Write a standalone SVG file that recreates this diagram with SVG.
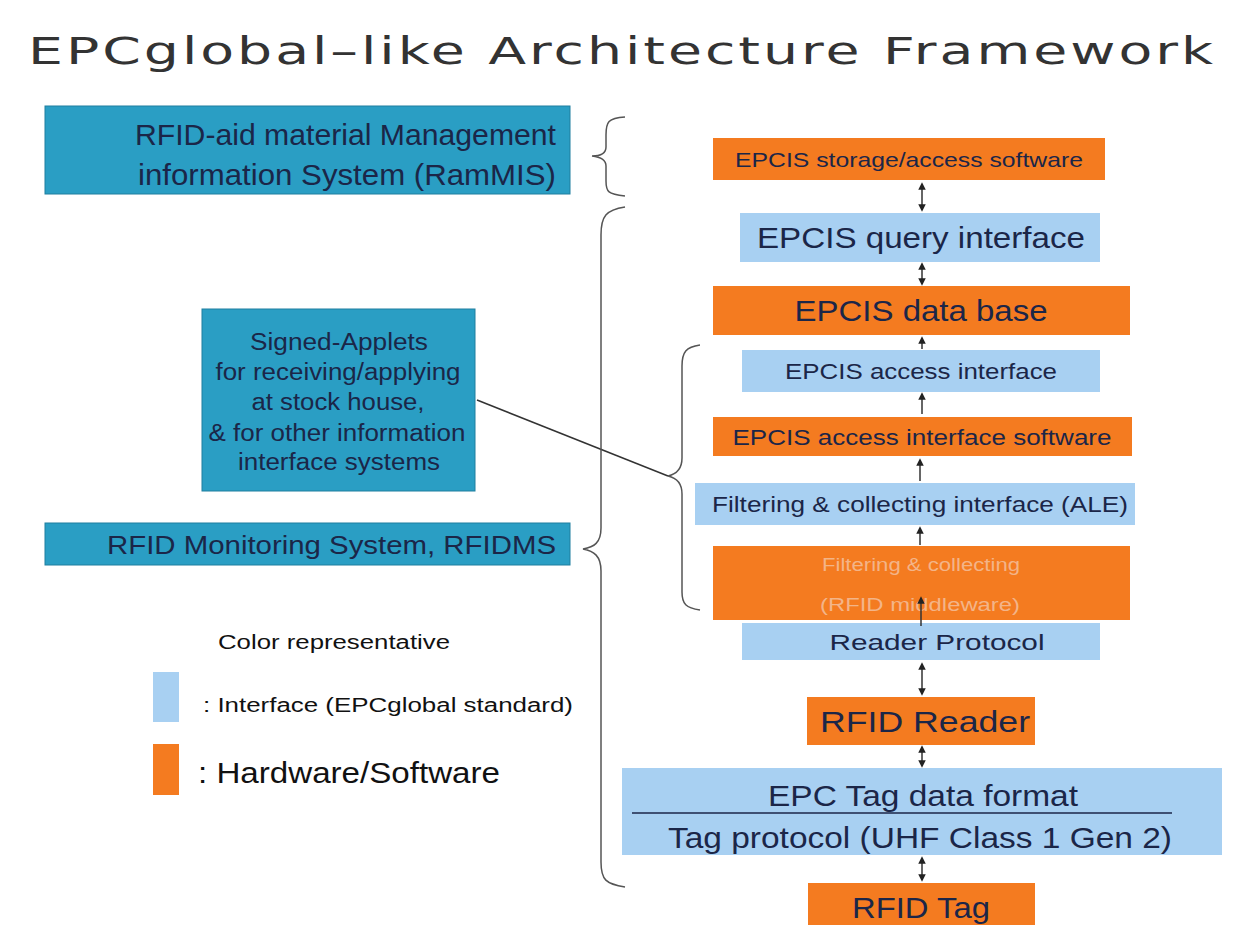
<svg xmlns="http://www.w3.org/2000/svg" width="1248" height="925" viewBox="0 0 1248 925">
<defs>
<style>
.t{font-family:"Liberation Sans",Arial,sans-serif;fill:#1b2648;text-anchor:middle}
.s{text-anchor:start}
.e{text-anchor:end}
.k{fill:#111}
.or{fill:#f47b20}
.lb{fill:#a8d0f2}
.tl{fill:#2a9ec4;stroke:#1f7f9f;stroke-width:1}
.br{fill:none;stroke:#555;stroke-width:1.5}
.ar{stroke:#333;stroke-width:1.5;fill:none}
</style>
<marker id="ah" viewBox="0 0 10 10" refX="5" refY="5" markerWidth="5" markerHeight="5" orient="auto-start-reverse">
<path d="M0,0 L10,5 L0,10 z" fill="#222"/>
</marker>
</defs>
<rect width="1248" height="925" fill="#ffffff"/>
<text x="28" y="64" font-family="DejaVu Sans,sans-serif" font-size="37" letter-spacing="2" fill="#333" textLength="1188" lengthAdjust="spacingAndGlyphs">EPCglobal–like Architecture Framework</text>

<g id="rammis">
<rect class="tl" x="45" y="106" width="525" height="88"/>
<text class="t e" x="556" y="145" font-size="29" textLength="421" lengthAdjust="spacingAndGlyphs">RFID-aid material Management</text>
<text class="t e" x="556" y="185" font-size="29" textLength="418" lengthAdjust="spacingAndGlyphs">information System (RamMIS)</text>
</g>
<g id="applets">
<rect class="tl" x="202" y="309" width="273" height="182"/>
<text class="t" x="339" y="350" font-size="23" textLength="178" lengthAdjust="spacingAndGlyphs">Signed-Applets</text>
<text class="t" x="338" y="380" font-size="23" textLength="245" lengthAdjust="spacingAndGlyphs">for receiving/applying</text>
<text class="t" x="338" y="410" font-size="23" textLength="173" lengthAdjust="spacingAndGlyphs">at stock house,</text>
<text class="t" x="337" y="441" font-size="23" textLength="257" lengthAdjust="spacingAndGlyphs">&amp; for other information</text>
<text class="t" x="339" y="470" font-size="23" textLength="202" lengthAdjust="spacingAndGlyphs">interface systems</text>
</g>
<g id="rfidms">
<rect class="tl" x="45" y="523" width="525" height="42"/>
<text class="t e" x="556" y="554" font-size="25" textLength="449" lengthAdjust="spacingAndGlyphs">RFID Monitoring System, RFIDMS</text>
</g>
<g id="legend">
<text class="t s k" x="218" y="649" font-size="20" textLength="232" lengthAdjust="spacingAndGlyphs">Color representative</text>
<rect class="lb" x="153" y="672" width="26" height="50"/>
<text class="t s k" x="203" y="712" font-size="20" textLength="370" lengthAdjust="spacingAndGlyphs">: Interface (EPCglobal standard)</text>
<rect class="or" x="153" y="744" width="26" height="51"/>
<text class="t s k" x="198" y="783" font-size="30" textLength="302" lengthAdjust="spacingAndGlyphs">: Hardware/Software</text>
</g>

<g id="n1"><rect class="or" x="713" y="138" width="392" height="42"/><text class="t" x="909" y="167" font-size="21" textLength="348" lengthAdjust="spacingAndGlyphs">EPCIS  storage/access  software</text></g>
<g id="n2"><rect class="lb" x="740" y="213" width="360" height="49"/><text class="t" x="921" y="248" font-size="30" textLength="328" lengthAdjust="spacingAndGlyphs">EPCIS query interface</text></g>
<g id="n3"><rect class="or" x="713" y="286" width="417" height="49"/><text class="t" x="921" y="321" font-size="30" textLength="253" lengthAdjust="spacingAndGlyphs">EPCIS data base</text></g>
<g id="n4"><rect class="lb" x="742" y="350" width="358" height="42"/><text class="t" x="921" y="379" font-size="22" textLength="272" lengthAdjust="spacingAndGlyphs">EPCIS access interface</text></g>
<g id="n5"><rect class="or" x="713" y="417" width="419" height="39"/><text class="t" x="922" y="445" font-size="22" textLength="379" lengthAdjust="spacingAndGlyphs">EPCIS access interface software</text></g>
<g id="n6"><rect class="lb" x="695" y="483" width="440" height="42"/><text class="t" x="920" y="512" font-size="22" textLength="416" lengthAdjust="spacingAndGlyphs">Filtering &amp; collecting interface  (ALE)</text></g>
<g id="n7"><rect class="or" x="713" y="546" width="417" height="74"/><text class="t" x="921" y="571" font-size="18" textLength="198" lengthAdjust="spacingAndGlyphs" style="fill:#f3b488">Filtering &amp; collecting</text><text class="t" x="920" y="611" font-size="18" textLength="200" lengthAdjust="spacingAndGlyphs" style="fill:#f3b488">(RFID middleware)</text></g>
<g id="n8"><rect class="lb" x="742" y="623" width="358" height="37"/><text class="t" x="937" y="650" font-size="22" textLength="215" lengthAdjust="spacingAndGlyphs">Reader Protocol</text></g>
<g id="n9"><rect class="or" x="807" y="697" width="228" height="48"/><text class="t" x="925" y="732" font-size="30" textLength="210" lengthAdjust="spacingAndGlyphs">RFID Reader</text></g>
<g id="n10"><rect class="lb" x="622" y="768" width="600" height="87"/><text class="t" x="923" y="806" font-size="29" textLength="310" lengthAdjust="spacingAndGlyphs">EPC Tag data format</text><line x1="632" y1="813" x2="1172" y2="813" stroke="#1b2648" stroke-width="1.5"/><text class="t" x="920" y="848" font-size="29" textLength="504" lengthAdjust="spacingAndGlyphs">Tag protocol (UHF Class 1 Gen 2)</text></g>
<g id="n11"><rect class="or" x="808" y="883" width="227" height="42"/><text class="t" x="921" y="918" font-size="30" textLength="138" lengthAdjust="spacingAndGlyphs">RFID Tag</text></g>

<g id="connectors">
<line class="ar" x1="922" y1="186" x2="922" y2="208" marker-start="url(#ah)" marker-end="url(#ah)"/>
<line class="ar" x1="922" y1="266" x2="922" y2="282" marker-start="url(#ah)" marker-end="url(#ah)"/>
<line class="ar" x1="922" y1="349" x2="922" y2="340" marker-end="url(#ah)"/>
<line class="ar" x1="922" y1="414" x2="922" y2="396" marker-end="url(#ah)"/>
<line class="ar" x1="920" y1="481" x2="920" y2="462" marker-end="url(#ah)"/>
<line class="ar" x1="920" y1="545" x2="920" y2="530" marker-end="url(#ah)"/>
<line class="ar" x1="921" y1="626" x2="921" y2="600" marker-end="url(#ah)"/>
<line class="ar" x1="922" y1="666" x2="922" y2="692" marker-start="url(#ah)" marker-end="url(#ah)"/>
<line class="ar" x1="922" y1="749" x2="922" y2="764" marker-start="url(#ah)" marker-end="url(#ah)"/>
<line class="ar" x1="922" y1="860" x2="922" y2="878" marker-start="url(#ah)" marker-end="url(#ah)"/>
<line x1="477" y1="400" x2="668" y2="476" stroke="#333" stroke-width="1.5"/>
<path class="br" d="M625,117 C608,118 606,122 606,135 L606,147 C606,153 601,156 592,156 C601,157 606,160 606,166 L606,181 C606,192 608,194 625,196"/>
<path class="br" d="M625,207 C606,210 601,216 601,235 L601,528 C601,543 594,547 583,549 C594,551 601,556 601,571 L601,862 C601,880 606,884 625,887"/>
<path class="br" d="M700,345 C686,347 682,352 682,366 L682,458 C682,469 677,474 668,476 C677,478 682,483 682,494 L682,592 C682,604 686,608 700,610"/>
</g>
</svg>
